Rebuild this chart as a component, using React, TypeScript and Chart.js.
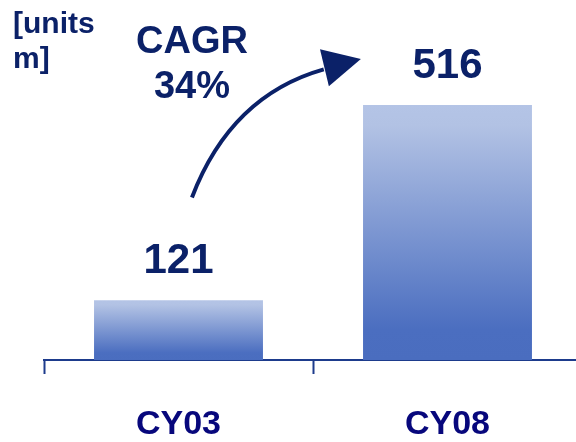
import React, { useEffect, useRef } from "react";
import { Chart, registerables } from "chart.js";

Chart.register(...registerables);

const categories = ["CY03", "CY08"];
const values = [121, 516];
const unitLabel = ["[units", "m]"];
const cagrLabel = ["CAGR", "34%"];

const FONT = "'Liberation Sans', Arial, Helvetica, sans-serif";
const NAVY = "#0b2168";
const TICK_NAVY = "#07077c";
const AXIS = "#1d3b8c";
const LIGHT = "#b4c4e6";
const BLUE = "#4a6dbf";
const AREA_OVERHANG = 6; // plot area runs past the right edge of the picture

export default function App() {
  const ref = useRef<HTMLCanvasElement>(null);

  useEffect(() => {
    document.body.style.margin = "0";
    const canvas = ref.current;
    if (!canvas) return;

    const extendArea = {
      id: "extendArea",
      afterLayout(chart: any) {
        const xs = chart.scales.x;
        chart.chartArea.right += AREA_OVERHANG;
        chart.chartArea.width = chart.chartArea.right - chart.chartArea.left;
        xs.right += AREA_OVERHANG;
        xs.width = xs.right - xs.left;
        xs.configure();
      },
    };

    const overlay = {
      id: "overlay",
      afterDatasetsDraw(chart: any) {
        const ctx = chart.ctx as CanvasRenderingContext2D;
        const meta = chart.getDatasetMeta(0);
        const ys = chart.scales.y;
        ctx.save();
        ctx.fillStyle = NAVY;
        ctx.textBaseline = "alphabetic";

        // value labels
        ctx.font = `bold 42px ${FONT}`;
        ctx.textAlign = "center";
        meta.data.forEach((bar: any, i: number) => {
          ctx.fillText(String(values[i]), bar.x, bar.y - 27);
        });

        // unit label
        ctx.font = `bold 30px ${FONT}`;
        ctx.textAlign = "left";
        unitLabel.forEach((t, i) => ctx.fillText(t, 13, 33 + i * 35));

        // CAGR label
        ctx.font = `bold 38px ${FONT}`;
        ctx.textAlign = "center";
        cagrLabel.forEach((t, i) => ctx.fillText(t, 192, 53 + i * 45));

        // arrow between the bars
        const b0 = meta.data[0];
        const b1 = meta.data[1];
        const dx = b1.x - b0.x;
        const px = (f: number) => b0.x + f * dx;
        const py = (v: number) => ys.getPixelForValue(v);
        ctx.strokeStyle = NAVY;
        ctx.lineWidth = 4;
        ctx.lineCap = "butt";
        ctx.beginPath();
        ctx.moveTo(px(0.05), py(329));
        ctx.quadraticCurveTo(px(0.195), py(535), px(0.54), py(588));
        ctx.stroke();
        ctx.beginPath();
        ctx.moveTo(px(0.678), py(609));
        ctx.lineTo(px(0.526), py(629));
        ctx.lineTo(px(0.559), py(554));
        ctx.closePath();
        ctx.fill();
        ctx.restore();
      },
    };

    const chart = new Chart(canvas, {
      type: "bar",
      data: {
        labels: categories,
        datasets: [
          {
            data: values,
            backgroundColor: (c: any) => {
              const ch = c.chart;
              const ys = ch.scales?.y;
              if (!ch.chartArea || !ys || c.raw == null) return BLUE;
              const top = ys.getPixelForValue(c.raw);
              const bottom = ys.getPixelForValue(0);
              if (!isFinite(top) || !isFinite(bottom) || top === bottom) return BLUE;
              const g = ch.ctx.createLinearGradient(0, top, 0, bottom);
              g.addColorStop(0, LIGHT);
              g.addColorStop(0.08, "#b2c2e4");
              g.addColorStop(0.88, "#4b6ec0");
              g.addColorStop(1, BLUE);
              return g;
            },
            borderWidth: 0,
            barPercentage: 0.628,
            categoryPercentage: 1,
          },
        ],
      },
      options: {
        animation: false,
        responsive: false,
        maintainAspectRatio: false,
        layout: { padding: { top: 105, left: 44, right: 0, bottom: 0 } },
        plugins: {
          legend: { display: false },
          tooltip: { enabled: false },
          title: { display: false },
        },
        scales: {
          y: { display: false, min: 0, max: 516 },
          x: {
            offset: true,
            grid: {
              display: true,
              offset: true,
              drawOnChartArea: false,
              drawTicks: true,
              tickLength: 14,
              tickWidth: 2,
              tickColor: AXIS,
            },
            border: { display: true, color: AXIS, width: 2 },
            ticks: {
              color: TICK_NAVY,
              padding: 30,
              font: { family: FONT, size: 34, weight: "bold" },
              maxRotation: 0,
            },
            afterFit: (s: any) => {
              s.height = 82;
            },
          },
        },
      },
      plugins: [extendArea, overlay],
    });

    return () => chart.destroy();
  }, []);

  return (
    <div style={{ width: 576, height: 442, background: "#ffffff" }}>
      <canvas ref={ref} width={576} height={442} style={{ display: "block" }} />
    </div>
  );
}
